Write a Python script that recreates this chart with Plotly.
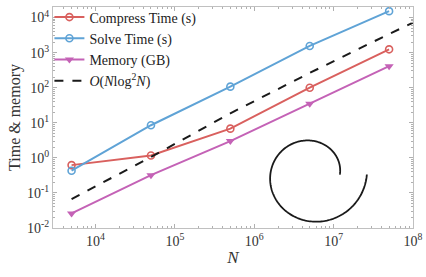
import numpy as np
import plotly.graph_objects as go

N = [5e3, 5e4, 5e5, 5e6, 5e7]
compress_time = [0.62, 1.17, 6.8, 100, 1240]
solve_time = [0.43, 8.5, 107, 1550, 15200]
memory_gb = [0.026, 0.32, 3.0, 35, 410]
N_ref = [5e3, 5e4, 5e5, 5e6, 5e7, 1e8]
ref_vals = [0.067, 1.05, 18.6, 263, 3390, 7100]

x_tick_exps = [4, 5, 6, 7, 8]
y_tick_exps = [-2, -1, 0, 1, 2, 3, 4]

FONT = "Liberation Serif, Times New Roman, serif"
red = "#d9605e"
blue = "#5fa3d6"
mag = "#c462b6"

fig = go.Figure()
fig.add_trace(go.Scatter(x=N, y=compress_time, name="Compress Time (s)", mode="lines+markers",
                         line=dict(color=red, width=2),
                         marker=dict(symbol="circle-open", size=7, line=dict(width=1.6, color=red))))
fig.add_trace(go.Scatter(x=N, y=solve_time, name="Solve Time (s)", mode="lines+markers",
                         line=dict(color=blue, width=2),
                         marker=dict(symbol="circle-open", size=7, line=dict(width=1.6, color=blue))))
fig.add_trace(go.Scatter(x=N, y=memory_gb, name="Memory (GB)", mode="lines+markers",
                         line=dict(color=mag, width=2),
                         marker=dict(symbol="triangle-down", size=8, color=mag)))
fig.add_trace(go.Scatter(x=N_ref, y=ref_vals, name="<i>O</i>(<i>N</i>log<sup>2</sup><i>N</i>)", mode="lines",
                         line=dict(color="#1a1a1a", width=2, dash="dash")))

# spiral decoration (paper coordinates)
W, H = 360, 227
cx, cy = 0.719, 0.242
th = np.linspace(0, 2 * np.pi, 200)
r = 28 + 4.3 * th
xs = cx + r * np.cos(th) / W
ys = cy + r * np.sin(th) / H
path = "M " + " L ".join(f"{a:.5f},{b:.5f}" for a, b in zip(xs, ys))
fig.add_shape(type="path", path=path, xref="paper", yref="paper",
              line=dict(color="#1a1a1a", width=1.8))

axis_common = dict(type="log", showgrid=False, zeroline=False, showline=True, linecolor="#c0c0c0",
                   linewidth=1, mirror="allticks", ticks="inside", ticklen=4, tickcolor="#b0b0b0",
                   minor=dict(ticks="inside", ticklen=2, tickcolor="#b0b0b0", dtick="D1"),
                   tickfont=dict(family=FONT, size=14, color="#333"), automargin=False)

fig.update_xaxes(**axis_common, range=[3.465, 8],
                 tickvals=[10.0 ** e for e in x_tick_exps],
                 ticktext=[f"10<sup>{e}</sup>" for e in x_tick_exps],
                 title=dict(text="<i>N</i>", font=dict(family=FONT, size=17, color="#333"), standoff=3))
fig.update_yaxes(**axis_common, range=[-2, 4.3],
                 tickvals=[10.0 ** e for e in y_tick_exps],
                 ticktext=[f"10<sup>{e}</sup>" for e in y_tick_exps],
                 title=dict(text="Time &amp; memory", font=dict(family=FONT, size=16, color="#333"), standoff=2))

fig.update_layout(width=426, height=277, margin=dict(l=53, r=13, t=1, b=49),
                  plot_bgcolor="white", paper_bgcolor="white",
                  font=dict(family=FONT, color="#222"),
                  legend=dict(x=-0.01, y=1.025, xanchor="left", yanchor="top", bgcolor="rgba(0,0,0,0)",
                              font=dict(family=FONT, size=14, color="#222"), itemwidth=30,
                              tracegroupgap=0),
                  showlegend=True)

fig.write_html("out.html", config={"displayModeBar": False},
               post_script="document.body.style.margin='0';document.body.style.padding='0';")
